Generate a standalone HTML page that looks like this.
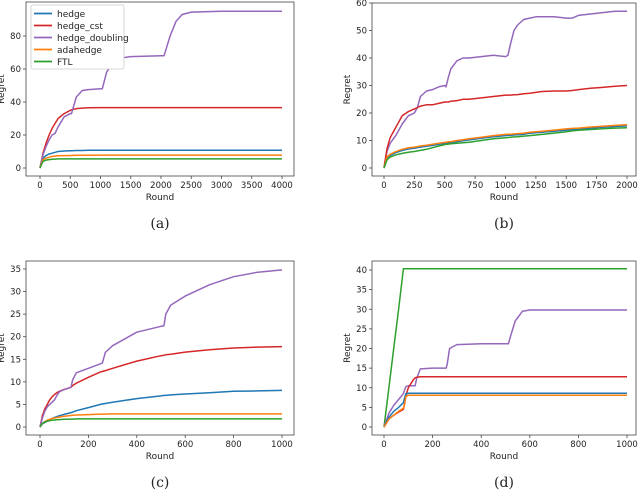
<!DOCTYPE html>
<html><head><meta charset="utf-8"><style>
body{margin:0;background:#fff}
svg{display:block}
text{font-family:"DejaVu Sans","Liberation Sans",sans-serif;fill:#222}
.cap{font-family:"DejaVu Serif","Liberation Serif",serif;font-size:14px}
</style></head><body>
<svg id="c" width="640" height="490" viewBox="0 0 640 490" xmlns="http://www.w3.org/2000/svg"></svg>
<script>
const names=["hedge","hedge_cst","hedge_doubling","adahedge","FTL"];
const colors=["#1f77b4","#d62728","#9467bd","#ff7f0e","#2ca02c"];
// Panel a
const xA=[0,50,100,150,200,250,300,400,500,520,600,700,800,1000,1030,1100,1200,1300,1500,2000,2050,2150,2250,2350,2500,3000,4000];
const aHedge=[0,6,7.5,8.5,9,9.5,10,10.3,10.5,10.5,10.6,10.6,10.7,10.7,10.7,10.7,10.8,10.8,10.8,10.8,10.8,10.8,10.8,10.8,10.8,10.8,10.8];
const aCst=[0,9,15,20,24,27,30,33,35,35.3,36,36.3,36.5,36.6,36.6,36.6,36.6,36.6,36.6,36.6,36.6,36.6,36.6,36.6,36.6,36.6,36.6];
const aDoub=[0,8,13,17,20,21,25,31,33,33,43,47,47.5,48,48,58,64,66.5,67.5,68,68,80,89,93,94.5,95,95];
const aAda=[0,5,6,6.5,7,7.2,7.4,7.5,7.6,7.6,7.7,7.7,7.7,7.8,7.8,7.8,7.8,7.8,7.8,7.8,7.8,7.8,7.8,7.8,7.8,7.8,7.8];
const aFtl=[0,4,4.8,5.1,5.3,5.4,5.5,5.5,5.5,5.5,5.5,5.5,5.5,5.5,5.5,5.5,5.5,5.5,5.5,5.5,5.5,5.5,5.5,5.5,5.5,5.5,5.5];
// Panel b
const xB=[0,25,50,100,150,200,250,275,300,350,400,450,500,510,530,550,600,650,700,800,900,1000,1020,1040,1070,1100,1150,1200,1250,1300,1400,1500,1550,1600,1700,1800,1900,2000];
const bDoub=[0,6,9,12,16,19,20,22,26,28,28.5,29.5,30,29.5,33,36,39,40,40,40.5,41,40.5,41,45,50,52,54,54.5,55,55,55,54.5,54.5,55.5,56,56.5,57,57];
const bCst=[0,7,11,15,19,20.5,21.5,22,22.5,23,23,23.5,24,24,24,24.3,24.5,25,25,25.5,26,26.5,26.5,26.5,26.6,26.7,27,27.2,27.5,27.8,28,28,28.2,28.5,29,29.3,29.7,30];
const bAda=[0,4,5,6,6.8,7.3,7.6,7.8,8,8.3,8.6,9,9.3,9.4,9.5,9.6,10,10.3,10.6,11.2,11.8,12.2,12.3,12.3,12.4,12.5,12.7,13,13.2,13.4,13.8,14.2,14.4,14.5,14.9,15.2,15.5,15.7];
const bHedge=[0,3.6,4.6,5.6,6.4,6.9,7.2,7.4,7.6,7.9,8.2,8.6,8.9,9,9.1,9.2,9.6,9.9,10.2,10.8,11.4,11.8,11.9,11.9,12,12.1,12.3,12.6,12.8,13,13.4,13.8,14,14.1,14.5,14.8,15.1,15.3];
const bFtl=[0,3,4,4.8,5.3,5.7,6,6.2,6.4,6.8,7.4,8,8.5,8.6,8.7,8.8,9,9.2,9.4,10,10.6,11,11.1,11.2,11.3,11.4,11.6,11.8,12,12.2,12.7,13.2,13.5,13.7,14,14.3,14.5,14.6];
// Panel c
const xC=[0,10,20,30,40,50,60,70,80,100,128,135,150,200,250,258,270,300,400,500,512,520,540,600,700,800,900,1000];
const cDoub=[0,2,3.5,4.5,5,5.5,6,7,7.8,8.3,8.8,10.5,12,13,14,14.2,16.5,18,21,22.3,22.4,25,27,29,31.5,33.3,34.3,34.8];
const cCst=[0,2.5,4,5,6,6.7,7.2,7.6,7.9,8.3,8.8,9.2,9.7,11,12.2,12.3,12.5,13,14.6,15.8,15.9,16,16.1,16.6,17.1,17.5,17.7,17.8];
const cHedge=[0,0.7,1,1.3,1.6,1.9,2.1,2.3,2.5,2.8,3.2,3.3,3.6,4.3,5,5.1,5.2,5.5,6.3,6.9,7,7,7.1,7.3,7.6,7.9,8,8.1];
const cAda=[0,0.8,1.2,1.5,1.7,1.9,2,2.1,2.2,2.4,2.55,2.6,2.65,2.75,2.85,2.85,2.85,2.9,2.9,2.9,2.9,2.9,2.9,2.9,2.9,2.9,2.9,2.9];
const cFtl=[0,0.8,1.1,1.3,1.4,1.5,1.55,1.6,1.65,1.7,1.75,1.75,1.8,1.8,1.8,1.8,1.8,1.8,1.8,1.8,1.8,1.8,1.8,1.8,1.8,1.8,1.8,1.8];
// Panel d
const xD=[0,20,40,60,80,85,90,100,120,128,135,150,200,256,260,270,300,400,512,520,540,570,600,700,1000];
const dFtl=[0,10,20,30,40.3,40.3,40.3,40.3,40.3,40.3,40.3,40.3,40.3,40.3,40.3,40.3,40.3,40.3,40.3,40.3,40.3,40.3,40.3,40.3,40.3];
const dDoub=[0,3.5,5.5,7,8.5,9.5,10.3,10.5,10.5,10.5,12.5,14.8,15,15,16,20,21,21.2,21.2,23,27,29.5,29.8,29.8,29.8];
const dCst=[0,2,3,3.8,4.5,6,8,10,12,12.5,12.7,12.8,12.8,12.8,12.8,12.8,12.8,12.8,12.8,12.8,12.8,12.8,12.8,12.8,12.8];
const dHedge=[0,2.5,4,5,6.2,7.5,8.5,8.6,8.6,8.6,8.6,8.6,8.6,8.6,8.6,8.6,8.6,8.6,8.6,8.6,8.6,8.6,8.6,8.6,8.6];
const dAda=[0,2,3,4,4.8,6,7.8,8.1,8.1,8.1,8.1,8.1,8.1,8.1,8.1,8.1,8.1,8.1,8.1,8.1,8.1,8.1,8.1,8.1,8.1];
const ticksA_x=[0,500,1000,1500,2000,2500,3000,3500,4000], ticksA_y=[0,20,40,60,80];
const ticksB_x=[0,250,500,750,1000,1250,1500,1750,2000], ticksB_y=[0,10,20,30,40,50,60];
const ticksC_x=[0,200,400,600,800,1000], ticksC_y=[0,5,10,15,20,25,30,35];
const ticksD_x=[0,200,400,600,800,1000], ticksD_y=[0,5,10,15,20,25,30,35,40];

const svg=document.getElementById('c');
const NS="http://www.w3.org/2000/svg";
function mk(t,a,p){const e=document.createElementNS(NS,t);for(const k in a)e.setAttribute(k,a[k]);(p||svg).appendChild(e);return e;}

function panel(id,box,xmax,ymin,ymax,xs,series,xt,yt,cap,y0px,ytopVal,ytopPx){
  const g=mk('g',{});
  
  
  const [L,T,R,B,x0,x1]=box;
  const sx=v=>x0+(v/xmax)*(x1-x0);
  const sy=v=>y0px-(v/ytopVal)*(y0px-ytopPx);
  series.forEach((s,i)=>{
    const d=xs.map((x,j)=>(j?'L':'M')+sx(x).toFixed(1)+','+sy(s.v[j]).toFixed(1)).join('');
    const p=mk('path',{d:d,fill:'none',stroke:colors[s.c],'stroke-width':1.5,'stroke-linejoin':'round'},g);
    
    
  });
  const fr=mk('rect',{x:L,y:T,width:R-L,height:B-T,fill:'none',stroke:'#444','stroke-width':0.8},g);
  
  
  xt.forEach(v=>{const x=sx(v);mk('line',{x1:x,x2:x,y1:B,y2:B+3,stroke:'#444','stroke-width':0.8},g);
    const t=mk('text',{x:x,y:B+12,'text-anchor':'middle','font-size':8.5},g);t.textContent=v;
    });
  yt.forEach(v=>{const y=sy(v);mk('line',{x1:L-3,x2:L,y1:y,y2:y,stroke:'#444','stroke-width':0.8},g);
    const t=mk('text',{x:L-5,y:y+3,'text-anchor':'end','font-size':8.5},g);t.textContent=v;
    });
  const xl=mk('text',{x:(L+R)/2,y:B+24,'text-anchor':'middle','font-size':9},g);xl.textContent='Round';
  
  const cy=(T+B)/2, cx=L-22;
  const yl=mk('text',{x:cx,y:cy,'text-anchor':'middle','font-size':9,transform:'rotate(-90 '+cx+' '+cy+')'},g);yl.textContent='Regret';
  
  const c=mk('text',{x:(L+R)/2,y:B+52,'text-anchor':'middle',class:'cap'},g);c.textContent=cap;
  
}
panel('a',[26,2,294,176,40,282],4000,0,0,xA,[{c:0,v:aHedge},{c:1,v:aCst},{c:2,v:aDoub},{c:3,v:aAda},{c:4,v:aFtl}],ticksA_x,ticksA_y,'(a)',168,80,36);
panel('b',[372,3,636,176,384,627],2000,0,0,xB,[{c:2,v:bDoub},{c:1,v:bCst},{c:0,v:bHedge},{c:3,v:bAda},{c:4,v:bFtl}],ticksB_x,ticksB_y,'(b)',168,60,3);
panel('c',[26,261,294,435,40,282],1000,0,0,xC,[{c:0,v:cHedge},{c:1,v:cCst},{c:2,v:cDoub},{c:3,v:cAda},{c:4,v:cFtl}],ticksC_x,ticksC_y,'(c)',427,35,269);
panel('d',[372,261,636,435,384,627],1000,0,0,xD,[{c:4,v:dFtl},{c:2,v:dDoub},{c:1,v:dCst},{c:0,v:dHedge},{c:3,v:dAda}],ticksD_x,ticksD_y,'(d)',427,40,270);

// legend
const lg=mk('g',{});


mk('rect',{x:31,y:5,width:93,height:64,fill:'#fff',stroke:'#ccc','stroke-width':0.8,rx:2},lg);
names.forEach((n,i)=>{const y=13.5+i*12;
  const e=mk('g',{},lg);
  
  
  mk('line',{x1:34,x2:52,y1:y,y2:y,stroke:colors[i],'stroke-width':1.8},e);
  const t=mk('text',{x:57,y:y+3.5,'font-size':9},e);t.textContent=n;});
</script>
</body></html>
